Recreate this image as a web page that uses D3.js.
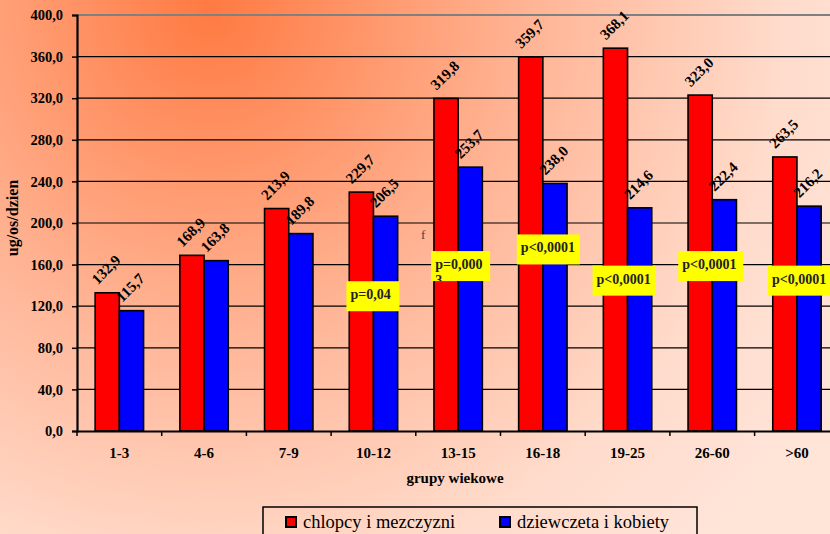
<!DOCTYPE html>
<html>
<head>
<meta charset="utf-8">
<script src="https://cdn.jsdelivr.net/npm/d3@7"></script>
<style>
  html, body { margin: 0; padding: 0; overflow: hidden; }
  svg { display: block; }
  text { font-family: "Liberation Serif", "Times New Roman", serif; }
</style>
</head>
<body>
<svg id="chart" width="830" height="534"></svg>
<script>
var categories = ['1-3', '4-6', '7-9', '10-12', '13-15', '16-18', '19-25', '26-60', '>60'];
var seriesNames = ['chlopcy i mezczyzni', 'dziewczeta i kobiety'];
var males = [132.9, 168.9, 213.9, 229.7, 319.8, 359.7, 368.1, 323.0, 263.5];
var females = [115.7, 163.8, 189.8, 206.5, 253.7, 238.0, 214.6, 222.4, 216.2];
var yTicks = [0, 40, 80, 120, 160, 200, 240, 280, 320, 360, 400];
// p-values per category and the value level where each box starts
var pCats = ['10-12', '13-15', '16-18', '19-25', '26-60', '>60'];
var pTexts = ['p=0,04', 'p=0,000\n3', 'p<0,0001', 'p<0,0001', 'p<0,0001', 'p<0,0001'];
var pTop = [144, 173, 189, 159, 173, 159];

// box layout (pixels)
var pDx = [-27, -27, -26, -35, -34, -29];
var pW = [53, 59, 63, 63, 65, 66];

var colors = ['#ff0000', '#0000ff'];
var fmt = function (v) { return v.toFixed(1).replace('.', ','); };

var svg = d3.select('#chart');
var width = 830, height = 534;

var defs = svg.append('defs');
var grad = defs.append('radialGradient')
    .attr('id', 'bg')
    .attr('gradientUnits', 'userSpaceOnUse')
    .attr('cx', 210).attr('cy', 10).attr('r', 720);
grad.append('stop').attr('offset', '0%').attr('stop-color', '#ff7a42');
grad.append('stop').attr('offset', '45%').attr('stop-color', '#ffb596');
grad.append('stop').attr('offset', '80%').attr('stop-color', '#ffdccc');
grad.append('stop').attr('offset', '100%').attr('stop-color', '#ffe4d8');

svg.append('rect').attr('width', width).attr('height', height).attr('fill', 'url(#bg)');

var plotLeft = 77, plotTop = 15, plotBottom = 431, step = 84.7;

var x0 = d3.scaleBand().domain(categories).range([plotLeft, plotLeft + step * categories.length]).padding(0);
var x1 = d3.scaleBand().domain([0, 1]).range([0, x0.bandwidth()]).paddingInner(0).paddingOuter(0.75);
var y = d3.scaleLinear().domain([0, 400]).range([plotBottom, plotTop]);

// gridlines
svg.append('g').selectAll('line')
    .data(yTicks.filter(function (d) { return d > 0 && d < 400; }))
    .join('line')
    .attr('x1', plotLeft).attr('x2', width)
    .attr('y1', function (d) { return y(d); }).attr('y2', function (d) { return y(d); })
    .attr('stroke', '#000').attr('stroke-width', 1.2);

svg.append('line')
    .attr('x1', plotLeft).attr('x2', width)
    .attr('y1', y(400)).attr('y2', y(400))
    .attr('stroke', '#808080').attr('stroke-width', 2);

// bars
var groups = svg.append('g').selectAll('g')
    .data(categories)
    .join('g')
    .attr('transform', function (d) { return 'translate(' + x0(d) + ',0)'; });

groups.selectAll('rect')
    .data(function (d, i) { return [males[i], females[i]]; })
    .join('rect')
    .attr('x', function (d, j) { return x1(j); })
    .attr('y', function (d) { return y(d); })
    .attr('width', x1.bandwidth())
    .attr('height', function (d) { return y(0) - y(d); })
    .attr('fill', function (d, j) { return colors[j]; })
    .attr('stroke', '#000').attr('stroke-width', 1.6);

groups.selectAll('text')
    .data(function (d, i) { return [males[i], females[i]]; })
    .join('text')
    .attr('transform', function (d, j) {
        return 'translate(' + (x1(j) + x1.bandwidth() / 2) + ',' + (y(d) - 22) + ') rotate(-45)';
    })
    .attr('text-anchor', 'middle')
    .attr('dominant-baseline', 'middle')
    .attr('font-weight', 'bold')
    .attr('font-size', 15)
    .text(function (d) { return fmt(d); });

// y axis
var yAxis = svg.append('g')
    .attr('transform', 'translate(' + plotLeft + ',0)')
    .call(d3.axisLeft(y).tickValues(yTicks).tickFormat(fmt).tickSize(5).tickPadding(9));
yAxis.select('.domain').attr('stroke', '#000').attr('stroke-width', 2.2);
yAxis.selectAll('.tick line').attr('stroke', '#000').attr('stroke-width', 1.5);
yAxis.selectAll('.tick text')
    .attr('font-family', '"Liberation Serif", serif')
    .attr('font-weight', 'bold').attr('font-size', 14.5).attr('fill', '#000');

// x axis
var xAxis = svg.append('g')
    .attr('transform', 'translate(0,' + plotBottom + ')')
    .call(d3.axisBottom(x0).tickSize(0).tickPadding(16));
xAxis.select('.domain').attr('stroke', '#000').attr('stroke-width', 2.2);
xAxis.selectAll('.tick text')
    .attr('font-family', '"Liberation Serif", serif')
    .attr('font-weight', 'bold').attr('font-size', 15).attr('fill', '#000');
xAxis.append('g').selectAll('line')
    .data(categories)
    .join('line')
    .attr('x1', function (d) { return x0(d); }).attr('x2', function (d) { return x0(d); })
    .attr('y1', 0).attr('y2', 5)
    .attr('stroke', '#000').attr('stroke-width', 1.5);

// axis titles
svg.append('text')
    .attr('x', 455).attr('y', 483)
    .attr('text-anchor', 'middle')
    .attr('font-weight', 'bold').attr('font-size', 15)
    .text('grupy wiekowe');

svg.append('text')
    .attr('transform', 'translate(18,218) rotate(-90)')
    .attr('text-anchor', 'middle')
    .attr('font-weight', 'bold').attr('font-size', 16)
    .text('ug/os/dzien');

// stray "f"
svg.append('text')
    .attr('x', 421).attr('y', 239)
    .attr('font-size', 13).attr('fill', '#444')
    .text('f');

// p-value boxes (text clipped to the box)
pCats.forEach(function (d, i) {
    defs.append('clipPath').attr('id', 'pclip' + i)
        .append('rect').attr('width', pW[i]).attr('height', 30);
});
var pg = svg.append('g').selectAll('g')
    .data(pCats)
    .join('g')
    .attr('transform', function (d, i) {
        return 'translate(' + (x0(d) + x0.bandwidth() / 2 + pDx[i]) + ',' + y(pTop[i]) + ')';
    });
pg.append('rect')
    .attr('width', function (d, i) { return pW[i]; })
    .attr('height', 30)
    .attr('fill', '#ffff00');
pg.append('g')
    .attr('clip-path', function (d, i) { return 'url(#pclip' + i + ')'; })
    .selectAll('text')
    .data(function (d, i) { return pTexts[i].split('\n'); })
    .join('text')
    .attr('x', 4).attr('y', function (t, k) { return 18 + k * 16; })
    .attr('font-weight', 'bold').attr('font-size', 14).attr('fill', '#222')
    .text(function (t) { return t; });

// legend
var legend = svg.append('g');
legend.append('rect')
    .attr('x', 263).attr('y', 507).attr('width', 434).attr('height', 40)
    .attr('fill', 'none').attr('stroke', '#000').attr('stroke-width', 1.5);
var legendX = [286, 500];
seriesNames.forEach(function (name, i) {
    legend.append('rect')
        .attr('x', legendX[i]).attr('y', 517).attr('width', 10).attr('height', 10)
        .attr('fill', colors[i]).attr('stroke', '#000').attr('stroke-width', 2);
    legend.append('text')
        .attr('x', legendX[i] + 17).attr('y', 528)
        .attr('font-family', '"Liberation Serif", "Times New Roman", serif')
        .attr('font-size', 18.5)
        .text(name);
});
</script>
</body>
</html>
